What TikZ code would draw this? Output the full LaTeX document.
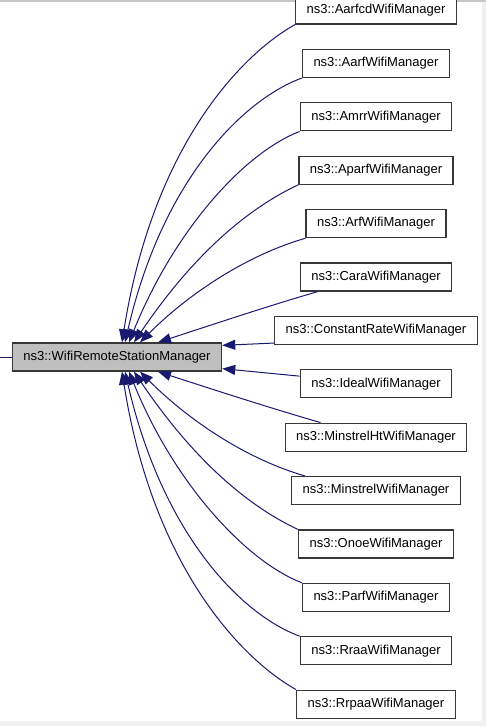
\documentclass[tikz,border=0pt]{standalone}
\usepackage{fontspec}
\setmainfont{Liberation Sans}
\usepackage{tikz}
\usetikzlibrary{arrows.meta}
\definecolor{edgeblue}{HTML}{191970}
\definecolor{hubgrey}{HTML}{BFBFBF}

\begin{document}
\begin{tikzpicture}[x=1pt, y=1pt, node distance=53.4pt,
  main/.style = {draw=black!78, line width=1.3pt, fill=white, minimum height=28pt, inner xsep=11pt, inner ysep=0pt, font=\fontsize{13}{15}\selectfont},
  base/.style = {main, fill=hubgrey},
  edge/.style = {edgeblue, line width=1pt, -{Triangle[length=13pt,width=10pt]}}]
\useasboundingbox (0,0) rectangle (486,-726);
\fill[black!6] (482,0) rectangle (486,-726);
\fill[black!6] (0,-721) rectangle (486,-726);
\fill[black!22] (0,0) rectangle (486,-1.5);
\node[base] (0) at (117,-357) {ns3::WifiRemoteStationManager};
\node[main] (1) at (376,-10) {ns3::AarfcdWifiManager};
\node[main] (2) [below of = 1] {ns3::AarfWifiManager};
\node[main] (3) [below of = 2] {ns3::AmrrWifiManager};
\node[main] (4) [below of = 3] {ns3::AparfWifiManager};
\node[main] (5) [below of = 4] {ns3::ArfWifiManager};
\node[main] (6) [below of = 5] {ns3::CaraWifiManager};
\node[main] (7) [below of = 6] {ns3::ConstantRateWifiManager};
\node[main] (8) [below of = 7] {ns3::IdealWifiManager};
\node[main] (9) [below of = 8] {ns3::MinstrelHtWifiManager};
\node[main] (10) [below of = 9] {ns3::MinstrelWifiManager};
\node[main] (11) [below of = 10] {ns3::OnoeWifiManager};
\node[main] (12) [below of = 11] {ns3::ParfWifiManager};
\node[main] (13) [below of = 12] {ns3::RraaWifiManager};
\node[main] (14) [below of = 13] {ns3::RrpaaWifiManager};
\coordinate (in) at (0,-357);
\draw[edgeblue, line width=1pt] (0) -- (in);
% upper half
\draw[edge] (1.south west) .. controls +(209:60pt) and +(81:200pt) .. ([xshift=5pt]0.north);
\draw[edge] (2.south west) .. controls +(200:60pt) and +(77:170pt) .. ([xshift=8pt]0.north);
\draw[edge] (3.south west) .. controls +(201:60pt) and +(68:120pt) .. ([xshift=12pt]0.north);
\draw[edge] (4.south west) .. controls +(205:60pt) and +(56:100pt) .. ([xshift=17pt]0.north);
\draw[edge] (5.south west) .. controls +(196:60pt) and +(45:70pt) .. ([xshift=23pt]0.north);
\draw[edge] ([xshift=18pt]6.south west) .. controls +(196:50pt) and +(18:50pt) .. ([xshift=41pt]0.north);
\draw[edge] ([yshift=2pt]7.south west) -- ([yshift=-3pt]0.north east);
% lower half
\draw[edge] ([yshift=-7pt]8.north west) -- ([yshift=3pt]0.south east);
\draw[edge] ([xshift=36pt]9.north west) .. controls +(164:50pt) and +(-18:50pt) .. ([xshift=41pt]0.south);
\draw[edge] ([xshift=14pt]10.north west) .. controls +(164:60pt) and +(-45:70pt) .. ([xshift=23pt]0.south);
\draw[edge] (11.north west) .. controls +(155:60pt) and +(-56:100pt) .. ([xshift=17pt]0.south);
\draw[edge] (12.north west) .. controls +(159:60pt) and +(-68:120pt) .. ([xshift=12pt]0.south);
\draw[edge] (13.north west) .. controls +(160:60pt) and +(-77:170pt) .. ([xshift=8pt]0.south);
\draw[edge] (14.north west) .. controls +(151:60pt) and +(-81:200pt) .. ([xshift=5pt]0.south);
\end{tikzpicture}
\end{document}
